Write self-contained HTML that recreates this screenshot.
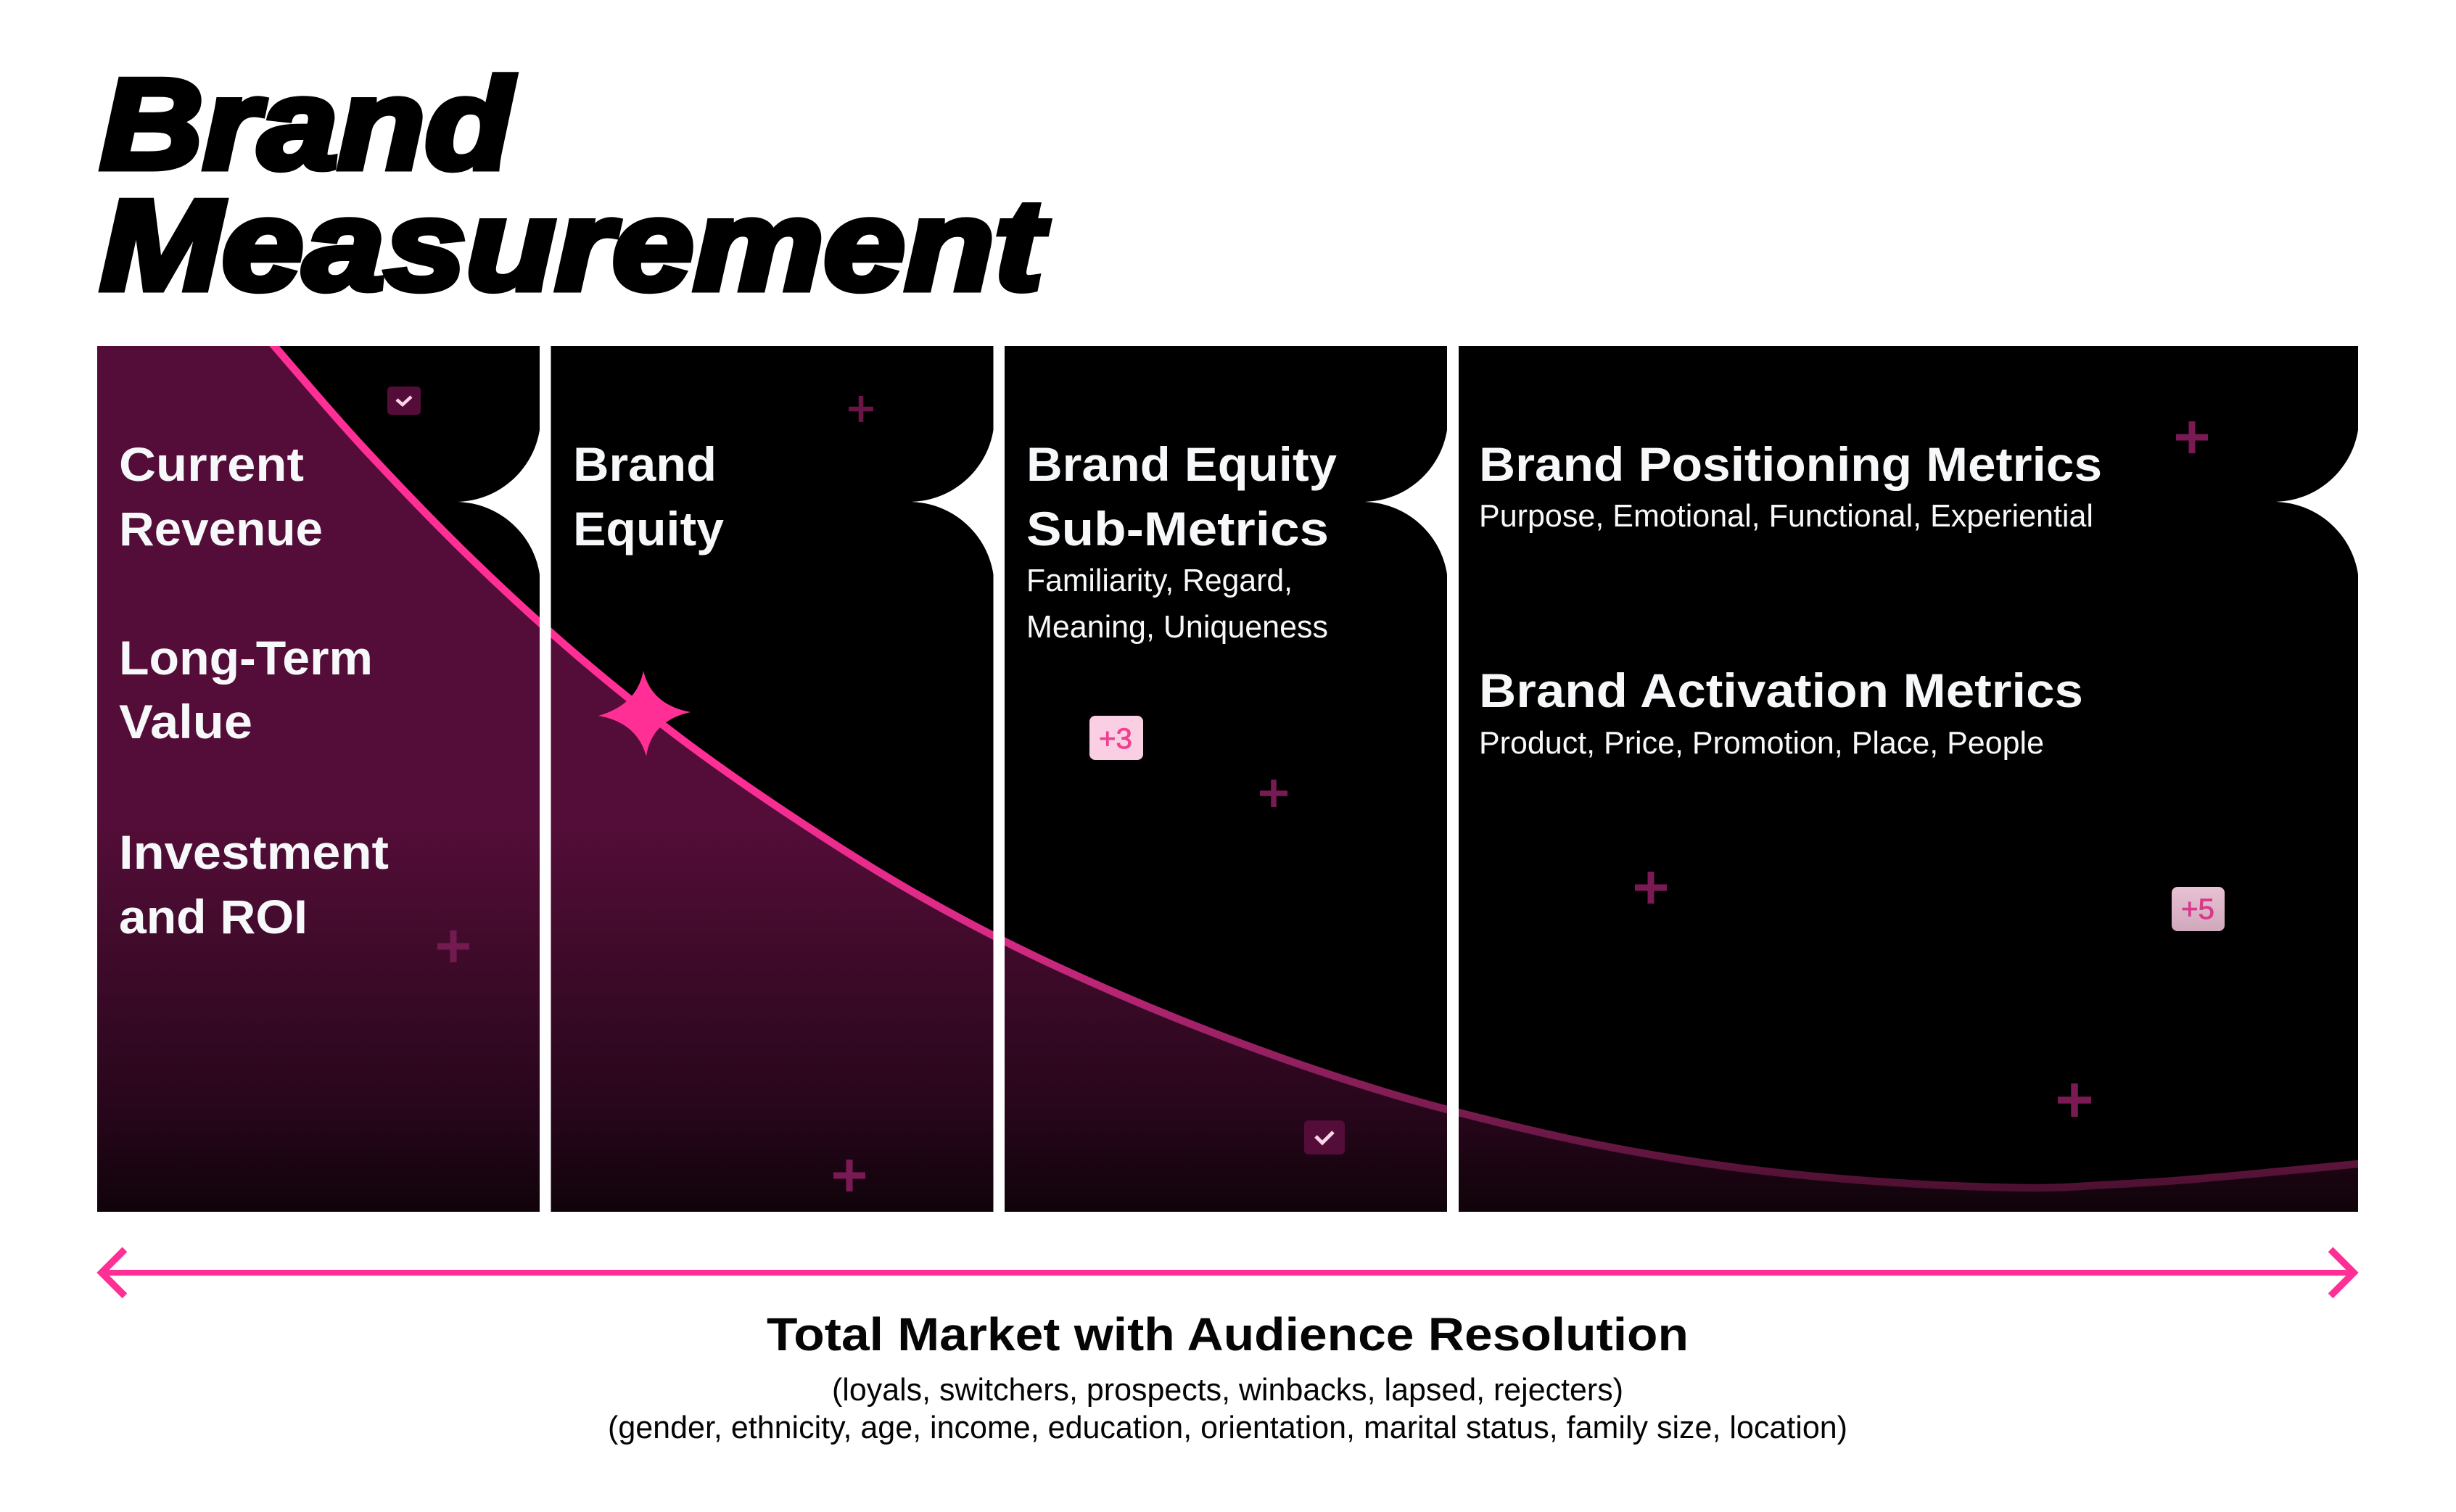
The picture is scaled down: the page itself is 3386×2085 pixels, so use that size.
<!DOCTYPE html>
<html lang="en">
<head>
<meta charset="utf-8">
<title>Brand Measurement</title>
<style>
html,body{margin:0;padding:0;background:#fff;}
body{width:3386px;height:2085px;overflow:hidden;}
svg{display:block;}
text{font-family:"Liberation Sans",sans-serif;}
.title{font-size:177px;font-weight:700;font-style:italic;fill:#000;stroke:#000;stroke-width:9px;}
.head{font-size:66px;font-weight:700;fill:#f7f8fa;}
.sub{font-size:44px;font-weight:400;fill:#f7f8fa;}
.foot{font-size:64px;font-weight:700;fill:#050505;}
.note{font-size:44px;font-weight:400;fill:#050505;}
.plus{fill:none;stroke:#7a1a54;}
.check{fill:none;stroke:#fdd5e8;stroke-linecap:butt;stroke-linejoin:miter;}
</style>
</head>
<body>
<svg id="chart" width="3386" height="2085" viewBox="0 0 3386 2085" xmlns="http://www.w3.org/2000/svg">
  <defs>
    <clipPath id="panels">
      <path d="M134,477H744V593A118,118 0 0 1 631,692A118,118 0 0 1 744,792V1671H134Z"/>
      <path d="M759.5,477H1369.5V593A118,118 0 0 1 1256.5,692A118,118 0 0 1 1369.5,792V1671H759.5Z"/>
      <path d="M1385,477H1995V593A118,118 0 0 1 1882,692A118,118 0 0 1 1995,792V1671H1385Z"/>
      <path d="M2011,477H3251V593A118,118 0 0 1 3138,692A118,118 0 0 1 3251,792V1671H2011Z"/>
    </clipPath>
    <linearGradient id="areaFill" gradientUnits="userSpaceOnUse" x1="0" y1="477" x2="0" y2="1671">
      <stop offset="0" stop-color="#540d38"/>
      <stop offset="0.55" stop-color="#540d38"/>
      <stop offset="0.682" stop-color="#420b2c"/>
      <stop offset="0.891" stop-color="#26061a"/>
      <stop offset="1" stop-color="#10030a"/>
    </linearGradient>
    <linearGradient id="curveStroke" gradientUnits="userSpaceOnUse" x1="0" y1="1050" x2="0" y2="1640">
      <stop offset="0" stop-color="#ff2f96"/>
      <stop offset="0.407" stop-color="#d82a85"/>
      <stop offset="0.627" stop-color="#a02268"/>
      <stop offset="0.815" stop-color="#7a1c50"/>
      <stop offset="1" stop-color="#4d1030"/>
    </linearGradient>
    <linearGradient id="badgeFade" x1="0" y1="0" x2="0" y2="1">
      <stop offset="0" stop-color="#e9c0d4"/>
      <stop offset="1" stop-color="#cfa9bb"/>
    </linearGradient>
  </defs>

  <rect x="0" y="0" width="3386" height="2085" fill="#ffffff"/>

  <text class="title" x="138" y="232" textLength="568" lengthAdjust="spacingAndGlyphs">Brand</text>
  <text class="title" x="138" y="399" textLength="1300" lengthAdjust="spacingAndGlyphs">Measurement</text>

  <g clip-path="url(#panels)">
    <rect x="134" y="477" width="3117" height="1194" fill="#000000"/>
    <g id="curveLayer"></g>
  </g>

  <g id="starLayer"></g>

  <!-- Panel 1 -->
  <text class="head" x="164" y="663" textLength="255" lengthAdjust="spacingAndGlyphs">Current</text>
  <text class="head" x="164" y="752" textLength="281" lengthAdjust="spacingAndGlyphs">Revenue</text>
  <text class="head" x="164" y="930" textLength="350" lengthAdjust="spacingAndGlyphs">Long-Term</text>
  <text class="head" x="164" y="1018" textLength="184" lengthAdjust="spacingAndGlyphs">Value</text>
  <text class="head" x="164" y="1198" textLength="372" lengthAdjust="spacingAndGlyphs">Investment</text>
  <text class="head" x="164" y="1287" textLength="260" lengthAdjust="spacingAndGlyphs">and ROI</text>

  <!-- Panel 2 -->
  <text class="head" x="790" y="663" textLength="198" lengthAdjust="spacingAndGlyphs">Brand</text>
  <text class="head" x="790" y="752" textLength="208" lengthAdjust="spacingAndGlyphs">Equity</text>

  <!-- Panel 3 -->
  <text class="head" x="1415" y="663" textLength="428" lengthAdjust="spacingAndGlyphs">Brand Equity</text>
  <text class="head" x="1415" y="752" textLength="417" lengthAdjust="spacingAndGlyphs">Sub-Metrics</text>
  <text class="sub" x="1415" y="815" textLength="367" lengthAdjust="spacingAndGlyphs">Familiarity, Regard,</text>
  <text class="sub" x="1415" y="879" textLength="416" lengthAdjust="spacingAndGlyphs">Meaning, Uniqueness</text>

  <!-- Panel 4 -->
  <text class="head" x="2039" y="663" textLength="859" lengthAdjust="spacingAndGlyphs">Brand Positioning Metrics</text>
  <text class="sub" x="2039" y="726" textLength="847" lengthAdjust="spacingAndGlyphs">Purpose, Emotional, Functional, Experiential</text>
  <text class="head" x="2039" y="975" textLength="833" lengthAdjust="spacingAndGlyphs">Brand Activation Metrics</text>
  <text class="sub" x="2039" y="1039" textLength="779" lengthAdjust="spacingAndGlyphs">Product, Price, Promotion, Place, People</text>

  <!-- Plus markers -->
  <path class="plus" stroke-width="6.5" d="M1170,564H1204M1187,546V582" style="stroke:#6a1546"/>
  <path class="plus" stroke-width="9" d="M603,1305H647M625,1283V1327" style="stroke:#731b51"/>
  <path class="plus" stroke-width="9" d="M1149,1621H1193M1171,1599V1643"/>
  <path class="plus" stroke-width="7.5" d="M1737,1094H1775M1756,1075V1113"/>
  <path class="plus" stroke-width="9" d="M2254,1224H2298M2276,1202V1246"/>
  <path class="plus" stroke-width="9" d="M3000,603H3044M3022,581V625"/>
  <path class="plus" stroke-width="9.5" d="M2837,1517H2883M2860,1494V1540"/>

  <!-- Badges -->
  <g>
    <rect x="534" y="533" width="46" height="39" rx="5" fill="#540d38"/>
    <path class="check" stroke-width="4.5" d="M547,551L555,558L567,547"/>
  </g>
  <g>
    <rect x="1798" y="1545" width="56" height="47" rx="6" fill="#540d38"/>
    <path class="check" stroke-width="5" d="M1814,1567L1823,1576L1838,1561"/>
  </g>
  <g>
    <rect x="1502" y="987" width="74" height="61" rx="8" fill="#fbcfe3"/>
    <text x="1515" y="1032" font-size="40" fill="#f0408f" stroke="#f0408f" stroke-width="0.8" textLength="46" lengthAdjust="spacingAndGlyphs">+3</text>
  </g>
  <g>
    <rect x="2994" y="1223" width="73" height="61" rx="8" fill="url(#badgeFade)"/>
    <text x="3007" y="1267" font-size="40" fill="#d63a8a" stroke="#d63a8a" stroke-width="0.8" textLength="46" lengthAdjust="spacingAndGlyphs">+5</text>
  </g>

  <!-- Market arrow -->
  <g fill="none" stroke="#ff2f96">
    <path stroke-width="8" d="M140,1755H3246"/>
    <path stroke-width="9.5" stroke-linejoin="miter" d="M172,1723L140,1755L172,1787"/>
    <path stroke-width="9.5" stroke-linejoin="miter" d="M3213,1723L3245,1755L3213,1787"/>
  </g>

  <!-- Footer -->
  <text class="foot" x="1057" y="1862" textLength="1271" lengthAdjust="spacingAndGlyphs">Total Market with Audience Resolution</text>
  <text class="note" x="1147" y="1931" textLength="1091" lengthAdjust="spacingAndGlyphs">(loyals, switchers, prospects, winbacks, lapsed, rejecters)</text>
  <text class="note" x="838" y="1983" textLength="1709" lengthAdjust="spacingAndGlyphs">(gender, ethnicity, age, income, education, orientation, marital status, family size, location)</text>
</svg>

<script>
// Curve readings: market coverage (percent) and brand effect index (0-100).
const marketCoverage = [7.44, 7.83, 11.74, 16.55, 21.37, 26.18, 30.99, 35.8, 40.62, 45.43, 50.24, 55.05, 59.87, 66.28, 72.7, 79.11, 85.27, 88.74, 91.95, 95.96, 100, 100.45];
const brandEffect = [101.17, 100, 88.36, 75.42, 63.94, 53.94, 45.2, 37.35, 30.6, 24.85, 19.8, 15.4, 11.7, 7.79, 5.03, 3.43, 2.76, 3.1, 3.6, 4.52, 5.53, 5.64];
const starCoverage = [24.19];
const starEffect = [57.54];

function xAxis(v) { return 134 + v * 31.17; }
function yAxis(v) { return 1671 - v * 11.94; }

function smoothPath(xs, ys) {
  let d = 'M' + xs[0].toFixed(1) + ',' + ys[0].toFixed(1);
  for (let i = 0; i < xs.length - 1; i++) {
    const i0 = Math.max(i - 1, 0);
    const i3 = Math.min(i + 2, xs.length - 1);
    const c1x = xs[i] + (xs[i + 1] - xs[i0]) / 6;
    const c1y = ys[i] + (ys[i + 1] - ys[i0]) / 6;
    const c2x = xs[i + 1] - (xs[i3] - xs[i]) / 6;
    const c2y = ys[i + 1] - (ys[i3] - ys[i]) / 6;
    d += 'C' + c1x.toFixed(1) + ',' + c1y.toFixed(1) + ' ' + c2x.toFixed(1) + ',' + c2y.toFixed(1) + ' ' + xs[i + 1].toFixed(1) + ',' + ys[i + 1].toFixed(1);
  }
  return d;
}

const NS = 'http://www.w3.org/2000/svg';
const px = marketCoverage.map(xAxis);
const py = brandEffect.map(yAxis);
const linePath = smoothPath(px, py);
const layer = document.getElementById('curveLayer');
const leftEdge = xAxis(0);

const area = document.createElementNS(NS, 'path');
area.setAttribute('d', linePath + 'L' + px[px.length - 1].toFixed(1) + ',1680L' + leftEdge + ',1680L' + leftEdge + ',' + py[0].toFixed(1) + 'Z');
area.setAttribute('fill', 'url(#areaFill)');


layer.appendChild(area);

const line = document.createElementNS(NS, 'path');
line.setAttribute('d', linePath);
line.setAttribute('fill', 'none');
line.setAttribute('stroke', 'url(#curveStroke)');
line.setAttribute('stroke-width', '10.5');


layer.appendChild(line);

const sx = xAxis(starCoverage[0]);
const sy = yAxis(starEffect[0]);
const star = document.createElementNS(NS, 'path');
star.setAttribute('d',
  'M' + (sx - 1) + ',' + (sy - 59) +
  'Q' + (sx + 10) + ',' + (sy - 12) + ' ' + (sx + 64) + ',' + (sy - 2) +
  'Q' + (sx + 10) + ',' + (sy + 10) + ' ' + (sx + 3) + ',' + (sy + 59) +
  'Q' + (sx - 10) + ',' + (sy + 12) + ' ' + (sx - 63) + ',' + (sy + 3) +
  'Q' + (sx - 10) + ',' + (sy - 12) + ' ' + (sx - 1) + ',' + (sy - 59) + 'Z');
star.setAttribute('fill', '#ff2f96');


document.getElementById('starLayer').appendChild(star);
</script>
</body>
</html>
